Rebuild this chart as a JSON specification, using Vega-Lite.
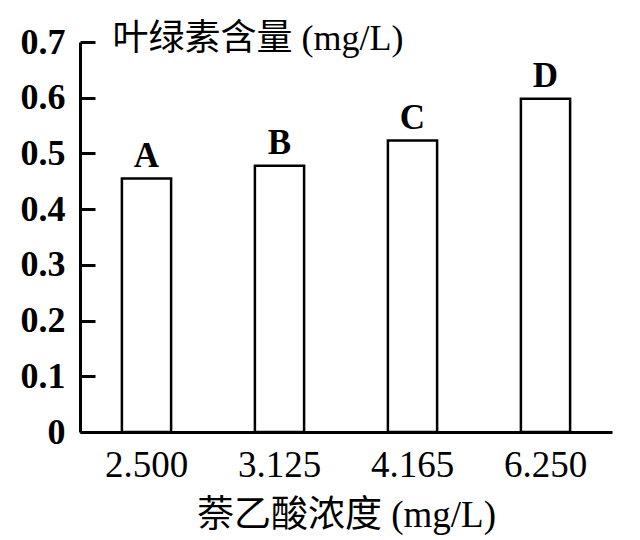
{
  "$schema": "https://vega.github.io/schema/vega-lite/v6.json",
  "autosize": "none",
  "width": 532,
  "height": 390,
  "padding": {"left": 80, "top": 42, "right": 28, "bottom": 108},
  "background": "white",
  "config": {
    "view": {"stroke": null},
    "font": "Liberation Serif"
  },
  "data": {
    "values": [
      {"conc": "2.500", "chl": 0.455, "sig": "A"},
      {"conc": "3.125", "chl": 0.478, "sig": "B"},
      {"conc": "4.165", "chl": 0.523, "sig": "C"},
      {"conc": "6.250", "chl": 0.598, "sig": "D"}
    ]
  },
  "encoding": {
    "x": {
      "field": "conc",
      "type": "ordinal",
      "sort": null,
      "scale": {"paddingInner": 0.63, "paddingOuter": 0.315},
      "axis": {
        "title": "萘乙酸浓度 (mg/L)",
        "titleFont": "Liberation Serif, Noto Sans CJK SC",
        "titleFontSize": 37,
        "titleFontWeight": "normal",
        "titleColor": "black",
        "titlePadding": 14,
        "labelAngle": 0,
        "labelFontSize": 37,
        "labelColor": "black",
        "labelPadding": 15,
        "ticks": false,
        "domainColor": "black",
        "domainWidth": 3
      }
    },
    "y": {
      "field": "chl",
      "type": "quantitative",
      "scale": {"domain": [0, 0.7]},
      "axis": {
        "title": "叶绿素含量 (mg/L)",
        "titleFont": "Liberation Serif, Noto Sans CJK SC",
        "titleFontSize": 36,
        "titleFontWeight": "normal",
        "titleColor": "black",
        "titleAngle": 0,
        "titleAlign": "left",
        "titleBaseline": "middle",
        "titleX": 32,
        "titleY": -4,
        "values": [0, 0.1, 0.2, 0.3, 0.4, 0.5, 0.6, 0.7],
        "format": "~g",
        "labelFontSize": 36,
        "labelFontWeight": "bold",
        "labelColor": "black",
        "labelPadding": 30,
        "tickSize": -15,
        "tickColor": "black",
        "tickWidth": 3,
        "domainColor": "black",
        "domainWidth": 3,
        "grid": false
      }
    }
  },
  "layer": [
    {
      "mark": {"type": "bar", "fill": "white", "stroke": "black", "strokeWidth": 2.5}
    },
    {
      "mark": {"type": "text", "fontSize": 35, "fontWeight": "bold", "baseline": "alphabetic", "dy": -12, "color": "black"},
      "encoding": {"text": {"field": "sig"}}
    }
  ]
}
